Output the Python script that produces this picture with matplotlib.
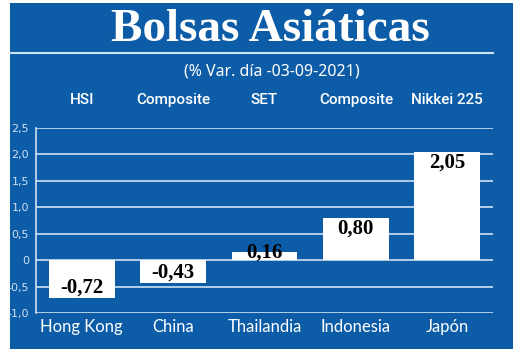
#!/usr/bin/env python3
# bolsas_asiaticas.py

import matplotlib.pyplot as plt
from matplotlib.patches import Rectangle
from matplotlib.lines import Line2D
from matplotlib.transforms import blended_transform_factory

countries = ["Hong Kong", "China", "Thailandia", "Indonesia", "Japón"]
indices = ["HSI", "Composite", "SET", "Composite", "Nikkei 225"]
changes = [-0.72, -0.43, 0.16, 0.80, 2.05]
ytick_vals = [-1.0, -0.5, 0, 0.5, 1.0, 1.5, 2.0, 2.5]
ytick_labels = ["-1,0", "-0,5", "0", "0,5", "1,0", "1,5", "2,0", "2,5"]

BLUE = "#0d5ca8"
LINE = "#cfe2f3"


def main():
    W, H = 520, 354
    fig = plt.figure(figsize=(W / 100, H / 100), dpi=100, facecolor="white")

    # blue panel behind everything
    bg = fig.add_axes([0, 0, 1, 1], zorder=-1)
    bg.axis("off")
    bg.add_patch(Rectangle((10 / W, 5 / H), 503 / W, 346 / H,
                           transform=fig.transFigure, facecolor=BLUE,
                           edgecolor="none"))

    # title and rule under it
    fig.text(270 / W, 1 - 30 / H, "Bolsas Asiáticas", ha="center", va="center",
             color="white", fontsize=34, fontweight="bold",
             family="Liberation Serif")
    fig.lines.append(Line2D([10 / W, 493 / W], [1 - 53 / H, 1 - 53 / H],
                            transform=fig.transFigure, color=LINE, lw=1.5))
    fig.text(272 / W, 1 - 71 / H, "(% Var. día -03-09-2021)", ha="center",
             va="center", color="white", fontsize=11.5, family="Noto Sans")

    ax = fig.add_axes([36 / W, 1 - 313 / H, (493 - 36) / W, (313 - 128) / H])
    ax.set_facecolor("none")
    x = range(len(changes))
    ax.bar(x, changes, width=0.72, color="white", zorder=3)

    trans = blended_transform_factory(ax.transData, fig.transFigure)
    for i, v in enumerate(changes):
        if v >= 0:
            y = max(v - 0.2, 0.15)
        else:
            y = v + 0.2
        ax.text(i, y, f"{v:.2f}".replace(".", ","), ha="center", va="center",
                fontsize=15, fontweight="bold", family="Liberation Serif",
                color="black", zorder=4)
        ax.text(i, 1 - 100 / H, indices[i], transform=trans,
                ha="center", va="center", color="white", fontsize=11,
                fontweight="medium", family="Roboto")
        ax.text(i, 1 - 327 / H, countries[i], transform=trans,
                ha="center", va="center", color="white", fontsize=12,
                family="Lato")

    ax.set_xlim(-0.5, 4.5)
    ax.set_ylim(-1.0, 2.5)
    ax.set_yticks(ytick_vals)
    ax.set_yticklabels(ytick_labels)
    ax.tick_params(axis="y", length=0, colors=LINE, labelsize=8, pad=5)
    ax.set_xticks([])
    ax.grid(axis="y", color=LINE, lw=1.2, zorder=1)
    ax.set_axisbelow(True)
    for side in ["top", "right", "bottom"]:
        ax.spines[side].set_visible(False)
    ax.spines["left"].set_color(LINE)
    ax.spines["left"].set_linewidth(1.2)

    fig.savefig("out.png", dpi=100, facecolor="white")


if __name__ == "__main__":
    main()
